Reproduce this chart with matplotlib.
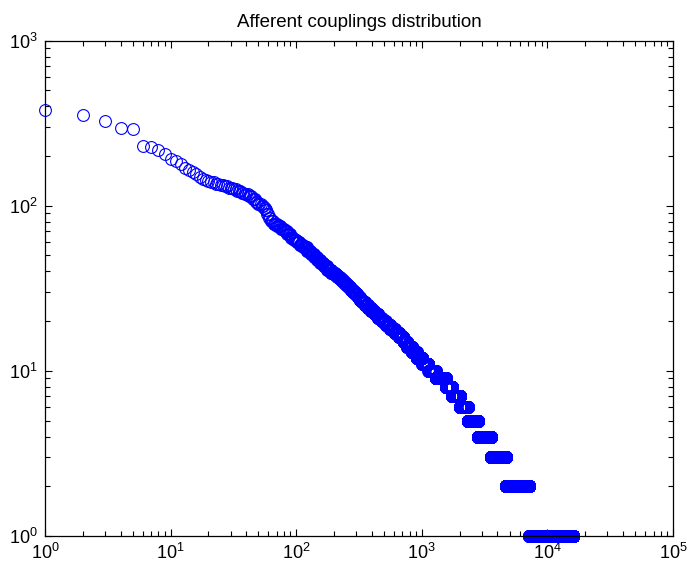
import numpy as np
import matplotlib
matplotlib.use("Agg")
import matplotlib.pyplot as plt

# Afferent coupling values sorted in descending order, run-length encoded:
# each value is repeated up to (and including) the given rank.
values = [380, 355, 327, 297, 290, 230, 228, 218, 207, 192, 186, 180, 170, 165,
          160, 155, 150, 146, 143, 141, 139, 136, 133, 131, 128, 126, 123, 120,
          117, 114, 110, 106, 103, 100, 97, 94, 89, 84, 81, 78, 75, 72, 70, 67,
          64, 62, 60, 58, 56, 53, 51, 49, 47, 45, 43, 41, 39, 38, 37, 36, 35, 34,
          33, 32, 31, 30, 29, 28, 27, 26, 25, 24, 23, 22, 21, 20, 19, 18, 17,
          16, 15, 14, 13, 12, 11, 10, 9, 8, 7, 6, 5, 4, 3, 2, 1]
last_rank = [1, 2, 3, 4, 5, 6, 7, 8, 9, 10, 11, 12, 13, 14,
             15, 16, 17, 18, 19, 20, 22, 24, 26, 28, 31, 33, 36, 38,
             41, 44, 47, 49, 52, 54, 56, 58, 60, 62, 65, 70, 75, 80, 84, 90,
             95, 100, 106, 113, 121, 130, 138, 146, 155, 165, 176, 189, 203, 212, 222, 231, 240, 249,
             259, 270, 282, 294, 307, 320, 335, 352, 372, 394, 420, 448, 478, 515, 560, 608, 660,
             715, 765, 835, 910, 1010, 1130, 1290, 1550, 1745, 2020, 2320, 2800, 3560, 4660, 7200, 16050]

counts = np.diff(np.concatenate([[0], last_rank]))
y = np.repeat(values, counts)
x = np.arange(1, len(y) + 1)

plt.rcParams['font.family'] = ['Liberation Sans', 'DejaVu Sans']
plt.rcParams['mathtext.fontset'] = 'custom'
plt.rcParams['mathtext.rm'] = 'Liberation Sans'
plt.rcParams['mathtext.it'] = 'Liberation Sans'

fig = plt.figure(figsize=(6.92, 5.68), dpi=100)
ax = fig.add_axes([0.065, 0.0565, 0.9075, 0.872])

ax.plot(x, y, linestyle='none', marker='o', markersize=8.5,
        markerfacecolor='none', markeredgecolor='#0000ff',
        markeredgewidth=0.8, clip_on=False)

ax.set_xscale('log')
ax.set_yscale('log')
ax.set_xlim(1, 1e5)
ax.set_ylim(1, 1e3)
ax.set_title('Afferent couplings distribution', fontsize=13.5, pad=10)

ax.tick_params(which='both', direction='in', top=True, right=True,
               labelsize=13, colors='black')
ax.tick_params(which='major', length=5, width=0.8, pad=5)
ax.tick_params(which='minor', length=3.5, width=0.8)
for s in ax.spines.values():
    s.set_linewidth(0.9)

fig.savefig('out.png', dpi=100)
